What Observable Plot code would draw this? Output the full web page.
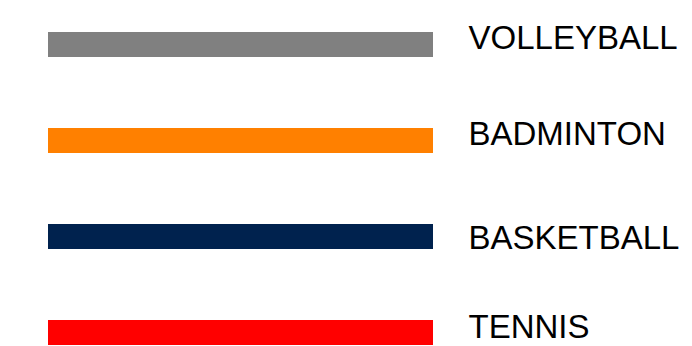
<!DOCTYPE html>
<html>
<head>
<meta charset="utf-8">
<script src="https://cdn.jsdelivr.net/npm/d3@7"></script>
<script src="https://cdn.jsdelivr.net/npm/@observablehq/plot@0.6"></script>
<style>
  html, body { margin: 0; padding: 0; background: #fff; }
  svg { display: block; }
</style>
</head>
<body>
<div id="chart"></div>
<script>
const sports = ["VOLLEYBALL", "BADMINTON", "BASKETBALL", "TENNIS"];
const values = [100, 100, 100, 100];

const data = sports.map((s, i) => ({sport: s, value: values[i]}));
const labelShift = {VOLLEYBALL: 4.5, BADMINTON: 4.5, BASKETBALL: 12.5, TENNIS: 5.5};

const chart = Plot.plot({
  width: 692,
  height: 346,
  margin: 0,
  x: {domain: [0, 100], range: [48, 433], axis: null},
  y: {type: "point", domain: sports, range: [43.5, 331.5], padding: 0, axis: null},
  color: {domain: sports, range: ["#808080", "#ff8000", "#00224e", "#ff0000"]},
  style: {fontFamily: "Liberation Sans, Arial, sans-serif", background: "white"},
  marks: [
    Plot.ruleY(data, {y: "sport", x1: 0, x2: "value", stroke: "sport", strokeWidth: 25}),
    ...sports.map(s => Plot.text(data.filter(d => d.sport === s), {
      x: "value", y: "sport", text: "sport",
      dx: 35, dy: labelShift[s],
      textAnchor: "start", lineAnchor: "bottom",
      fontSize: 33, fill: "black"
    }))
  ]
});
document.getElementById("chart").append(chart);
</script>
</body>
</html>
